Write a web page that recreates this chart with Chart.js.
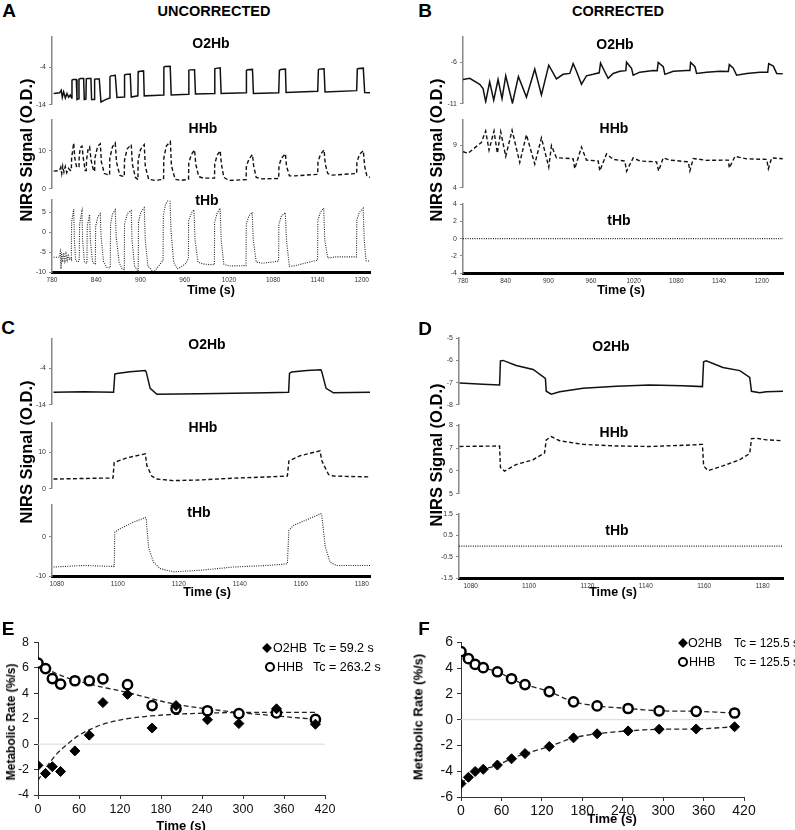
<!DOCTYPE html>
<html>
<head>
<meta charset="utf-8">
<script src="https://cdn.jsdelivr.net/npm/chart.js@4.4.0/dist/chart.umd.min.js"></script>
<style>
  body { margin: 0; background: #fff; width: 795px; height: 830px; position: relative; overflow: hidden;
         font-family: "Liberation Sans", Arial, sans-serif; }
  canvas { position: absolute; }
  .lbl { position: absolute; transform: translate(-50%, -50%); white-space: nowrap; font-weight: bold; color: #000; line-height: 1; }
  .lft { position: absolute; transform: translate(0, -50%); white-space: nowrap; color: #000; line-height: 1; }
  .rot { transform: translate(-50%, -50%) rotate(-90deg); }
  .dia { position: absolute; width: 7px; height: 7px; background: #000; transform: translate(-50%, -50%) rotate(45deg); }
  .circ { position: absolute; width: 6px; height: 6px; border: 2.5px solid #000; border-radius: 50%; background: #fff; transform: translate(-50%, -50%); }
</style>
</head>
<body>
<script>
// NIRS traces, [time (s), signal (O.D.)]

// A - uncorrected, 780-1210 s
const aO2Hb = [[782.3,-10.97],[790.4,-10.8],[792.6,-10.15],[794,-12.0],[795.8,-10.56],[798.1,-12.2],[800.3,-10.97],[802.6,-12.0],[804.8,-11.4],
  [806.6,-12.2],[807.1,-7.44],[808.5,-7.28],[813.0,-7.28],[813.9,-12.61],[815.9,-12.4],[816.6,-7.2],[818.4,-7.03],[822.9,-7.03],[823.8,-12.6],
  [826,-12.5],[826.5,-7.1],[828.3,-7.03],[832.8,-7.03],[833.7,-12.6],[837.3,-12.6],[837.8,-7.2],[839.6,-7.11],[844.1,-7.11],[846.4,-13.26],
  [852,-12.7],[858.1,-12.2],[858.6,-6.6],[859.9,-6.3],[865.8,-6.13],[868.1,-12.03],[878.0,-11.95],[878.4,-6.05],[879.8,-5.9],[886.1,-5.8],
  [887.5,-11.95],[896.5,-11.62],[896.9,-5.23],[897.9,-5.1],[904.2,-4.98],[905.1,-11.62],[918,-11.5],[931.3,-11.38],[931.7,-4.0],[933.1,-3.8],
  [940.3,-3.75],[941.7,-11.38],[965.2,-11.21],[965.6,-4.82],[967.4,-4.7],[973.3,-4.66],[974.6,-11.1],[1000.4,-10.97],[1000.8,-4.41],
  [1002.6,-4.3],[1008.1,-4.16],[1009.4,-10.97],[1043.3,-10.8],[1043.7,-4.82],[1045.1,-4.66],[1051.9,-4.57],[1053.2,-10.97],[1087.5,-10.8],
  [1088.4,-4.82],[1090.3,-4.6],[1096.6,-4.49],[1097.5,-10.72],[1140.4,-10.39],[1141.3,-4.66],[1142.6,-4.5],[1149.0,-4.41],[1150.3,-10.56],
  [1193.2,-10.23],[1194.1,-4.5],[1195.9,-4.35],[1202.2,-4.25],[1204.1,-10.72],[1211.3,-10.8]];

const aHHb = [[782.3,4.64],[790.4,4.8],[791.8,5.6],[793.2,4.0],[794.5,6.0],[796.2,4.4],[798,5.84],[800,4.24],[802.3,5.36],[804.8,4.8],
  [806.2,4.8],[806.6,8.0],[809.4,12.0],[811,8.0],[813.5,5.6],
  [816.6,5.8],[816.9,8.5],[818.4,10.8],[820.6,11.2],[822.5,8],[825,4.8],
  [826.5,4.8],[826.8,7.5],[829,10.5],[831,11.0],[833,7.5],[836.5,4.6],
  [837.8,4.6],[838.1,8],[842,11.2],[845.5,11.8],[847,7.0],[851,4.0],[858.1,3.6],
  [858.4,8.0],[862,11],[865.8,12.0],[867.5,7],[872,3.5],[878,3.2],
  [878.3,7.5],[882,10.5],[887.5,11.6],[889,6.5],[893,3],[896.5,2.4],
  [896.8,7.5],[900,10.3],[905.1,11.6],[906.5,6],[911,2.5],[920,2.2],[931.3,2.5],
  [931.6,8],[935,11.2],[940.5,12.4],[942,6],[947,2.5],[955,2.2],[965.2,2.5],
  [965.5,6.8],[969,9],[973.3,10.2],[975,6.5],[979,3.2],[985,2.8],[1000.4,2.8],
  [1000.7,6.5],[1004,8.8],[1008.1,10],[1009.8,6.5],[1013,3],[1020,2.2],[1043.3,2.4],
  [1043.6,5.8],[1047,7.8],[1051.9,9.0],[1053.5,6],[1057,3],[1065,2.6],[1087.5,2.7],
  [1087.8,6],[1091,8],[1096.6,9.2],[1098,6],[1102,3.4],[1110,3.4],[1140.4,3.8],
  [1140.7,7],[1144,9],[1149,10.2],[1150.6,6.5],[1154,4],[1160,3.6],[1193.2,4.0],
  [1193.5,7],[1197,9],[1202.2,10],[1204,6],[1207,3.4],[1211.3,3.0]];

const aTHb = [[782.3,-6.3],[790.4,-6.3],[791.5,-4.2],[792.2,-9.2],[793,-5],[794.5,-7.5],[796,-5.2],[797.5,-7.2],[799,-5.4],[800.5,-7],
  [802,-5.5],[803.5,-6.8],[805.5,-6.5],
  [806.2,-6.8],[806.6,2.5],[809.4,5.8],[810.4,-2],[812,-7],[814.8,-7.5],
  [817.0,-7.2],[817.4,2],[820.6,5.2],[821.5,-2],[824,-7.5],[826.8,-7.8],
  [827.4,-7.8],[827.8,1.5],[831,4.4],[832,-2],[835,-7.5],[838.2,-8],
  [838.7,-8],[839.2,1.5],[842,3.8],[845.5,4.6],[846.5,-1],[850,-7.5],[854,-8.8],[858.7,-9],
  [859.0,-8.8],[859.4,2],[862,4.5],[865.8,5.6],[867,-1],[871,-7.5],[875,-9.2],[877.8,-9.4],
  [878.0,-9.4],[878.4,2],[882,4.6],[887.5,5.4],[888.5,-2],[892,-8.5],[896.6,-9.8],
  [896.9,-9.8],[897.3,2.5],[900.5,5],[905.1,6.1],[906.5,-2],[910,-8.5],[917.7,-10.1],[930.2,-7.2],
  [930.6,-7.2],[931,4],[934,7],[938,8.2],[940,8],[941.5,0],[945,-7.5],[950,-9.2],[956,-8.6],[962,-7.8],[965,-6.5],
  [965.3,2.8],[969,4.8],[972.5,5.6],[974,-2],[978,-7.5],[985,-8],[1000.2,-8.2],
  [1000.6,2.5],[1004,4.8],[1008,6.0],[1009.5,-2],[1013,-8],[1020,-8.5],[1043.1,-8.4],
  [1043.5,2],[1047,4],[1051.5,5.0],[1053,-2],[1057,-7.5],[1065,-7.8],[1087.3,-7.3],
  [1087.7,2],[1091,4],[1096.4,4.9],[1098,-2],[1102,-8.6],[1110,-8.4],[1140.2,-7],
  [1140.6,3],[1144,5],[1148.5,6.0],[1150,-2],[1154,-6.5],[1165,-6.2],[1193,-6.2],
  [1193.4,3],[1197,5],[1202,6.0],[1203.5,-2],[1206,-7.2],[1211.3,-7.3]];

// B - corrected, 780-1230 s
const bO2Hb = [[780,-8.08],[789.4,-7.93],[803.5,-8.66],[808.2,-9.18],[811.9,-10.74],[817.5,-8.37],[823.2,-10.56],[829.3,-8.08],
  [834.9,-10.38],[840.1,-7.64],[849.5,-10.93],[857.9,-7.72],[869.2,-10.2],[880.9,-6.84],[890.3,-9.94],[900.6,-6.36],[911.4,-8.0],
  [920.8,-7.46],[930.2,-7.35],[934.9,-6.18],[939.6,-7.09],[946.6,-8.66],[953.6,-7.64],[963.0,-7.46],[971.5,-7.28],[973.4,-6.11],
  [978.0,-6.91],[984.1,-7.93],[991.2,-7.35],[1000.6,-7.09],[1009.0,-7.02],[1010.0,-6.0],[1017.0,-6.73],[1019.3,-7.57],[1028.7,-7.2],
  [1047.5,-6.99],[1053.1,-7.02],[1054.5,-6.04],[1061.6,-6.55],[1063.9,-7.46],[1075.7,-7.09],[1094.4,-6.99],[1099.1,-6.99],[1100.1,-6.04],
  [1106.2,-6.55],[1108.5,-7.35],[1122.6,-7.2],[1141.4,-7.09],[1153.1,-7.13],[1154.5,-6.29],[1160.1,-6.73],[1164.8,-7.57],[1178.9,-7.35],
  [1197.7,-7.2],[1208.5,-7.2],[1209.9,-6.18],[1216.4,-6.47],[1221.1,-7.35],[1229.6,-7.39]];

const bHHb = [[780,8.27],[787.0,8.09],[805.8,9.36],[811.9,10.72],[816.6,8.45],[823.6,10.72],[828.3,8.09],[833.0,10.64],[840.1,7.72],
  [849.0,10.82],[859.8,6.99],[869.2,10.28],[880.9,6.81],[890.3,9.91],[900.6,6.45],[904.4,9.0],[911.4,7.54],[916.1,7.54],[934.9,7.43],
  [937.2,6.26],[946.6,8.82],[953.6,7.28],[970.1,7.17],[972.4,6.0],[981.8,8.01],[991.2,7.36],[1007.6,7.17],[1010.0,5.97],[1019.3,7.54],
  [1028.7,7.17],[1052.2,7.07],[1055.0,6.0],[1061.6,7.54],[1071.0,7.28],[1096.8,7.07],[1099.1,6.0],[1103.8,7.47],[1122.6,7.25],
  [1153.1,7.28],[1154.5,6.34],[1162.5,7.72],[1178.9,7.43],[1207.1,7.36],[1209.4,6.26],[1214.1,7.54],[1229.6,7.43]];

const bTHb = [[780,0],[1230,0]];

// C - uncorrected, zoom on two cycles
const cO2Hb = [[1078.9,-10.56],[1088.7,-10.4],[1098.6,-10.56],[1099.0,-5.56],[1099.7,-5.39],[1104,-4.9],[1109.0,-4.57],[1109.3,-4.98],
  [1110.6,-9.49],[1112.8,-11.13],[1127.0,-10.97],[1148.9,-10.7],[1156.0,-10.56],[1156.3,-5.39],[1157.0,-4.98],[1162,-4.6],[1166.6,-4.41],
  [1166.9,-4.98],[1168.3,-9.49],[1170.7,-10.72],[1182.7,-10.56]];

const cHHb = [[1078.9,2.67],[1094.2,2.92],[1098.4,2.92],[1098.8,7.25],[1103.0,8.5],[1109.0,9.58],[1109.5,6.42],[1111.1,3.5],[1112.8,2.67],
  [1118.3,2.25],[1127.0,2.42],[1137.9,2.92],[1148.9,3.25],[1155.6,3.5],[1156.1,7.67],[1159.8,9.08],[1166.3,10.42],[1166.9,7.67],
  [1169.1,3.92],[1170.7,3.5],[1182.7,3.25]];

const cTHb = [[1078.9,-7.72],[1088.7,-7.32],[1098.0,-7.56],[1098.8,-7.56],[1099.0,1.22],[1100.8,2.03],[1105.1,3.66],[1109.0,4.88],
  [1109.3,4.47],[1110.1,-2.85],[1111.7,-6.5],[1113.9,-8.13],[1118.3,-8.94],[1127.0,-8.54],[1137.9,-7.72],[1148.9,-7.32],[1155.6,-6.91],
  [1156.1,1.63],[1157.6,2.85],[1162.0,4.31],[1166.6,5.85],[1166.9,5.28],[1168.0,-2.44],[1169.6,-6.5],[1171.8,-7.32],[1182.7,-7.32]];

// D - corrected, same two cycles
const dO2Hb = [[1076.2,-7.02],[1084.2,-7.07],[1089.9,-7.11],[1090.2,-6.02],[1091.1,-6.0],[1095.6,-6.23],[1101.4,-6.41],[1105.6,-6.81],
  [1105.9,-7.39],[1107.6,-7.52],[1110.5,-7.41],[1118.5,-7.25],[1129.9,-7.16],[1141.3,-7.11],[1152.7,-7.14],[1159.4,-7.18],[1159.8,-6.06],
  [1160.7,-6.02],[1166.4,-6.32],[1172.2,-6.46],[1175.6,-6.77],[1176.2,-7.39],[1179,-7.46],[1181.3,-7.41],[1187,-7.39]];

const dHHb = [[1076.2,7.07],[1089.9,7.09],[1090.2,6.15],[1091.6,5.99],[1095.6,6.28],[1101.4,6.49],[1105.3,6.78],[1105.9,7.36],[1107.6,7.5],
  [1110.5,7.32],[1118.5,7.16],[1129.9,7.09],[1141.3,7.07],[1152.7,7.12],[1159.4,7.16],[1159.8,6.22],[1161.3,6.01],[1166.4,6.22],
  [1172.2,6.49],[1175.6,6.76],[1176.2,7.41],[1177.9,7.43],[1181.3,7.36],[1187,7.32]];

const dTHb = [[1076,0],[1187,0]];

// tick labels
const abXTicks = [780, 840, 900, 960, 1020, 1080, 1140, 1200];
const cdXTicks = [1080, 1100, 1120, 1140, 1160, 1180];

// E / F - metabolic rate vs time
const rateTimes = [0, 11, 21, 33, 54, 75, 95, 131, 167, 202, 248, 294, 349, 406];
const eO2HB = [-1.67, -2.3, -1.77, -2.15, -0.53, 0.71, 3.27, 3.92, 1.27, 3.04, 1.92, 1.62, 2.78, 1.57];
const eHHB = [6.38, 5.95, 5.16, 4.73, 4.99, 4.99, 5.14, 4.68, 3.04, 2.78, 2.63, 2.41, 2.46, 1.95];
const fitTimes = [0, 10, 20, 30, 45, 60, 80, 100, 130, 165, 200, 250, 300, 350, 406];
const eFitO2HB = [-2.86, -2.0, -1.25, -0.62, 0.1, 0.7, 1.25, 1.65, 2.0, 2.22, 2.35, 2.45, 2.49, 2.5, 2.5];
const eFitHHB = [6.3, 6.0, 5.72, 5.48, 5.18, 4.95, 4.66, 4.42, 4.08, 3.6, 3.15, 2.76, 2.46, 2.22, 1.95];
const fO2HB = [-4.96, -4.47, -4.02, -3.85, -3.52, -3.03, -2.63, -2.08, -1.41, -1.09, -0.87, -0.74, -0.72, -0.55];
const fHHB = [5.29, 4.74, 4.29, 4.04, 3.72, 3.18, 2.73, 2.18, 1.39, 1.07, 0.87, 0.69, 0.65, 0.52];
const eZero = [[0, 0], [420, 0]];
const fZero = [[0, 0], [387, 0]];

Chart.defaults.font.family = '"Liberation Sans", Arial, sans-serif';

function pairs(p) { return p.map(d => ({ x: d[0], y: d[1] })); }
function zipXY(xs, ys) { return xs.map((x, i) => ({ x: x, y: ys[i] })); }

function addCanvas(left, top, w, h) {
  const c = document.createElement('canvas');
  c.width = w; c.height = h;
  c.style.left = left + 'px'; c.style.top = top + 'px';
  c.style.width = w + 'px'; c.style.height = h + 'px';
  document.body.appendChild(c);
  return c;
}

function text(s, x, y, size, cls, extra) {
  const d = document.createElement('div');
  d.className = cls || 'lbl';
  d.textContent = s;
  d.style.left = x + 'px'; d.style.top = y + 'px';
  d.style.fontSize = size + 'px';
  if (extra) Object.assign(d.style, extra);
  document.body.appendChild(d);
}

const lineStyles = {
  o2: { dash: [], width: 1.5, color: '#111' },
  hhb: { dash: [4, 2.5], width: 1.4, color: '#111' },
  thb: { dash: [1, 1.3], width: 1.1, color: '#222' }
};

// one strip of the NIRS panels; the axis line sits at p.axisX
function trace(p) {
  const yw = 34, padT = 4, padR = 8;
  const xh = p.xTicks ? 14 : 0;
  const padB = p.xTicks ? 0 : 4;
  const w = p.right - p.axisX + yw + padR;
  const h = p.bottom - p.top + padT + padB + xh;
  const c = addCanvas(p.axisX - yw, p.top - padT, w, h);
  const st = lineStyles[p.kind];
  new Chart(c, {
    type: 'line',
    data: { datasets: [{ data: pairs(p.data), borderColor: st.color, borderWidth: st.width, borderDash: st.dash,
      pointRadius: 0, tension: 0, fill: false }] },
    options: {
      responsive: false, animation: false, devicePixelRatio: 1,
      layout: { padding: { top: padT, right: padR, bottom: padB, left: 0 } },
      plugins: { legend: { display: false }, tooltip: { enabled: false } },
      scales: {
        x: { type: 'linear', min: p.xMin, max: p.xMax, display: !!p.xTicks,
          border: { color: '#000', width: 3 },
          grid: { drawOnChartArea: false, drawTicks: false },
          ticks: { font: { size: 6.5 }, color: '#333', padding: 4, autoSkip: false, maxRotation: 0, callback: v => String(v) },
          afterBuildTicks: s => { if (p.xTicks) s.ticks = p.xTicks.map(v => ({ value: v })); },
          afterFit: s => { s.height = xh; } },
        y: { type: 'linear', min: p.yMin, max: p.yMax,
          border: { color: '#888', width: 1.5 },
          grid: { drawOnChartArea: false, drawTicks: true, tickLength: 3, color: '#888' },
          ticks: { font: { size: 7 }, color: '#333', padding: 3, autoSkip: false, callback: v => String(v) },
          afterBuildTicks: s => { s.ticks = p.yTicks.map(v => ({ value: v })); },
          afterFit: s => { s.width = yw; } }
      }
    }
  });
}

// A
trace({ kind: 'o2', data: aO2Hb, axisX: 52, right: 370, top: 34, bottom: 108, xMin: 780, xMax: 1211.3, yMin: -14, yMax: 4, yTicks: [-14, -4] });
trace({ kind: 'hhb', data: aHHb, axisX: 52, right: 370, top: 117, bottom: 192, xMin: 780, xMax: 1211.3, yMin: 0, yMax: 18, yTicks: [0, 10] });
trace({ kind: 'thb', data: aTHb, axisX: 52, right: 370, top: 197, bottom: 272, xMin: 780, xMax: 1211.3, yMin: -10, yMax: 8, yTicks: [-10, -5, 0, 5], xTicks: abXTicks });
// B
trace({ kind: 'o2', data: bO2Hb, axisX: 463, right: 783, top: 34, bottom: 107, xMin: 780, xMax: 1230, yMin: -11, yMax: -3, yTicks: [-11, -6] });
trace({ kind: 'hhb', data: bHHb, axisX: 463, right: 783, top: 117, bottom: 191, xMin: 780, xMax: 1230, yMin: 4, yMax: 12, yTicks: [4, 9] });
trace({ kind: 'thb', data: bTHb, axisX: 463, right: 783, top: 201, bottom: 273, xMin: 780, xMax: 1230, yMin: -4, yMax: 4, yTicks: [-4, -2, 0, 2, 4], xTicks: abXTicks });
// C
trace({ kind: 'o2', data: cO2Hb, axisX: 52, right: 370, top: 336, bottom: 408, xMin: 1078.4, xMax: 1182.7, yMin: -14, yMax: 4, yTicks: [-14, -4] });
trace({ kind: 'hhb', data: cHHb, axisX: 52, right: 370, top: 420, bottom: 492, xMin: 1078.4, xMax: 1182.7, yMin: 0, yMax: 18, yTicks: [0, 10] });
trace({ kind: 'thb', data: cTHb, axisX: 52, right: 370, top: 502, bottom: 576, xMin: 1078.4, xMax: 1182.7, yMin: -10, yMax: 8, yTicks: [-10, 0], xTicks: cdXTicks });
// D
trace({ kind: 'o2', data: dO2Hb, axisX: 459, right: 783, top: 335, bottom: 408, xMin: 1076, xMax: 1187, yMin: -8, yMax: -5, yTicks: [-8, -7, -6, -5] });
trace({ kind: 'hhb', data: dHHb, axisX: 459, right: 783, top: 422, bottom: 497, xMin: 1076, xMax: 1187, yMin: 5, yMax: 8, yTicks: [5, 6, 7, 8] });
trace({ kind: 'thb', data: dTHb, axisX: 459, right: 783, top: 511, bottom: 578, xMin: 1076, xMax: 1187, yMin: -1.5, yMax: 1.5, yTicks: [-1.5, -0.5, 0.5, 1.5], xTicks: cdXTicks });

// E and F
function rateChart(p) {
  const c = addCanvas(p.left, p.top, p.w, p.h);
  new Chart(c, {
    type: 'line',
    data: { datasets: p.datasets },
    options: {
      responsive: false, animation: false, devicePixelRatio: 1,
      layout: { padding: { top: p.padT, right: p.padR, bottom: 0, left: 0 } },
      plugins: { legend: { display: false }, tooltip: { enabled: false } },
      scales: {
        x: { type: 'linear', min: 0, max: 420,
          border: { color: '#333', width: 1 },
          grid: { drawOnChartArea: false, tickLength: 4, color: '#333' },
          ticks: { stepSize: 60, font: { size: p.fs }, color: '#111', padding: p.xPad, maxRotation: 0 },
          afterFit: s => { s.height = p.xh; } },
        y: { type: 'linear', min: p.yMin, max: p.yMax,
          border: { color: '#333', width: 1 },
          grid: { drawOnChartArea: false, tickLength: 4, color: '#333' },
          ticks: { stepSize: 2, font: { size: p.fs }, color: '#111', padding: p.yPad },
          afterFit: s => { s.width = p.yw; } }
      }
    }
  });
}

const diamond = { showLine: false, pointStyle: 'rectRot', pointRadius: 5, pointBackgroundColor: '#000', pointBorderColor: '#000', pointBorderWidth: 1 };
const ring = { showLine: false, pointStyle: 'circle', pointRadius: 4.6, pointBackgroundColor: '#fff', pointBorderColor: '#000', pointBorderWidth: 2.5 };
const fitLine = { borderColor: '#222', borderWidth: 1.3, borderDash: [5, 3], pointRadius: 0, tension: 0.35, fill: false };
const zeroLine = { borderColor: '#d9d9d9', borderWidth: 1, pointRadius: 0, fill: false };

rateChart({
  left: 0, top: 630, w: 340, h: 200, padT: 7, padR: 15, yw: 38, xh: 35, fs: 12.5, xPad: 3, yPad: 5, yMin: -4, yMax: 8,
  datasets: [
    Object.assign({ data: zipXY(rateTimes, eO2HB) }, diamond),
    Object.assign({ data: zipXY(rateTimes, eHHB) }, ring),
    Object.assign({ data: zipXY(fitTimes, eFitO2HB) }, fitLine),
    Object.assign({ data: zipXY(fitTimes, eFitHHB) }, fitLine),
    Object.assign({ data: pairs(eZero) }, zeroLine)
  ]
});

rateChart({
  left: 420, top: 630, w: 340, h: 200, padT: 6, padR: 16, yw: 41, xh: 33, fs: 14, xPad: 2, yPad: 4, yMin: -6, yMax: 6,
  datasets: [
    Object.assign({}, diamond, { data: zipXY(rateTimes, fO2HB), showLine: true, borderColor: '#222', borderWidth: 1.3, borderDash: [5, 3], tension: 0.3 }),
    Object.assign({}, ring, { data: zipXY(rateTimes, fHHB), showLine: true, borderColor: '#222', borderWidth: 1.3, borderDash: [5, 3], tension: 0.3 }),
    Object.assign({ data: pairs(fZero) }, zeroLine)
  ]
});

// panel letters and headers
text('A', 9, 10, 19); text('B', 425, 10, 19); text('C', 8, 327, 19);
text('D', 425, 328, 19); text('E', 8, 628, 19); text('F', 424, 628, 19);
text('UNCORRECTED', 214, 11, 14.5); text('CORRECTED', 618, 11, 14.5);

// strip labels
[['O2Hb', 211, 43], ['HHb', 203, 128], ['tHb', 207, 200],
 ['O2Hb', 615, 44], ['HHb', 614, 128], ['tHb', 619, 220],
 ['O2Hb', 207, 344], ['HHb', 203, 427], ['tHb', 199, 512],
 ['O2Hb', 611, 346], ['HHb', 614, 432], ['tHb', 617, 530]].forEach(t => text(t[0], t[1], t[2], 14));

// axis titles
text('Time (s)', 211, 290, 12.5); text('Time (s)', 621, 290, 12.5);
text('Time (s)', 207, 592, 12.5); text('Time (s)', 613, 592, 12.5);
text('Time (s)', 181, 825, 13); text('Time (s)', 612, 818, 13);
[[26, 150], [436, 150], [26, 452], [436, 455]].forEach(p => text('NIRS Signal (O.D.)', p[0], p[1], 16.5, 'lbl rot'));
text('Metabolic Rate (%/s)', 11, 722, 12, 'lbl rot');
text('Metabolic Rate (%/s)', 418, 717, 13, 'lbl rot');

// legends
function marker(cls, x, y) {
  const d = document.createElement('div');
  d.className = cls; d.style.left = x + 'px'; d.style.top = y + 'px';
  document.body.appendChild(d);
}
marker('dia', 267, 648); marker('circ', 270, 667);
text('O2HB', 273, 648, 12.5, 'lft'); text('HHB', 277, 667, 12.5, 'lft');
text('Tc = 59.2 s', 313, 648, 12.5, 'lft'); text('Tc = 263.2 s', 313, 667, 12.5, 'lft');
marker('dia', 683, 643); marker('circ', 683, 662);
text('O2HB', 688, 643, 12.5, 'lft'); text('HHB', 689, 662, 12.5, 'lft');
text('Tc = 125.5 s', 734, 643, 12, 'lft'); text('Tc = 125.5 s', 734, 662, 12, 'lft');
</script>
</body>
</html>
